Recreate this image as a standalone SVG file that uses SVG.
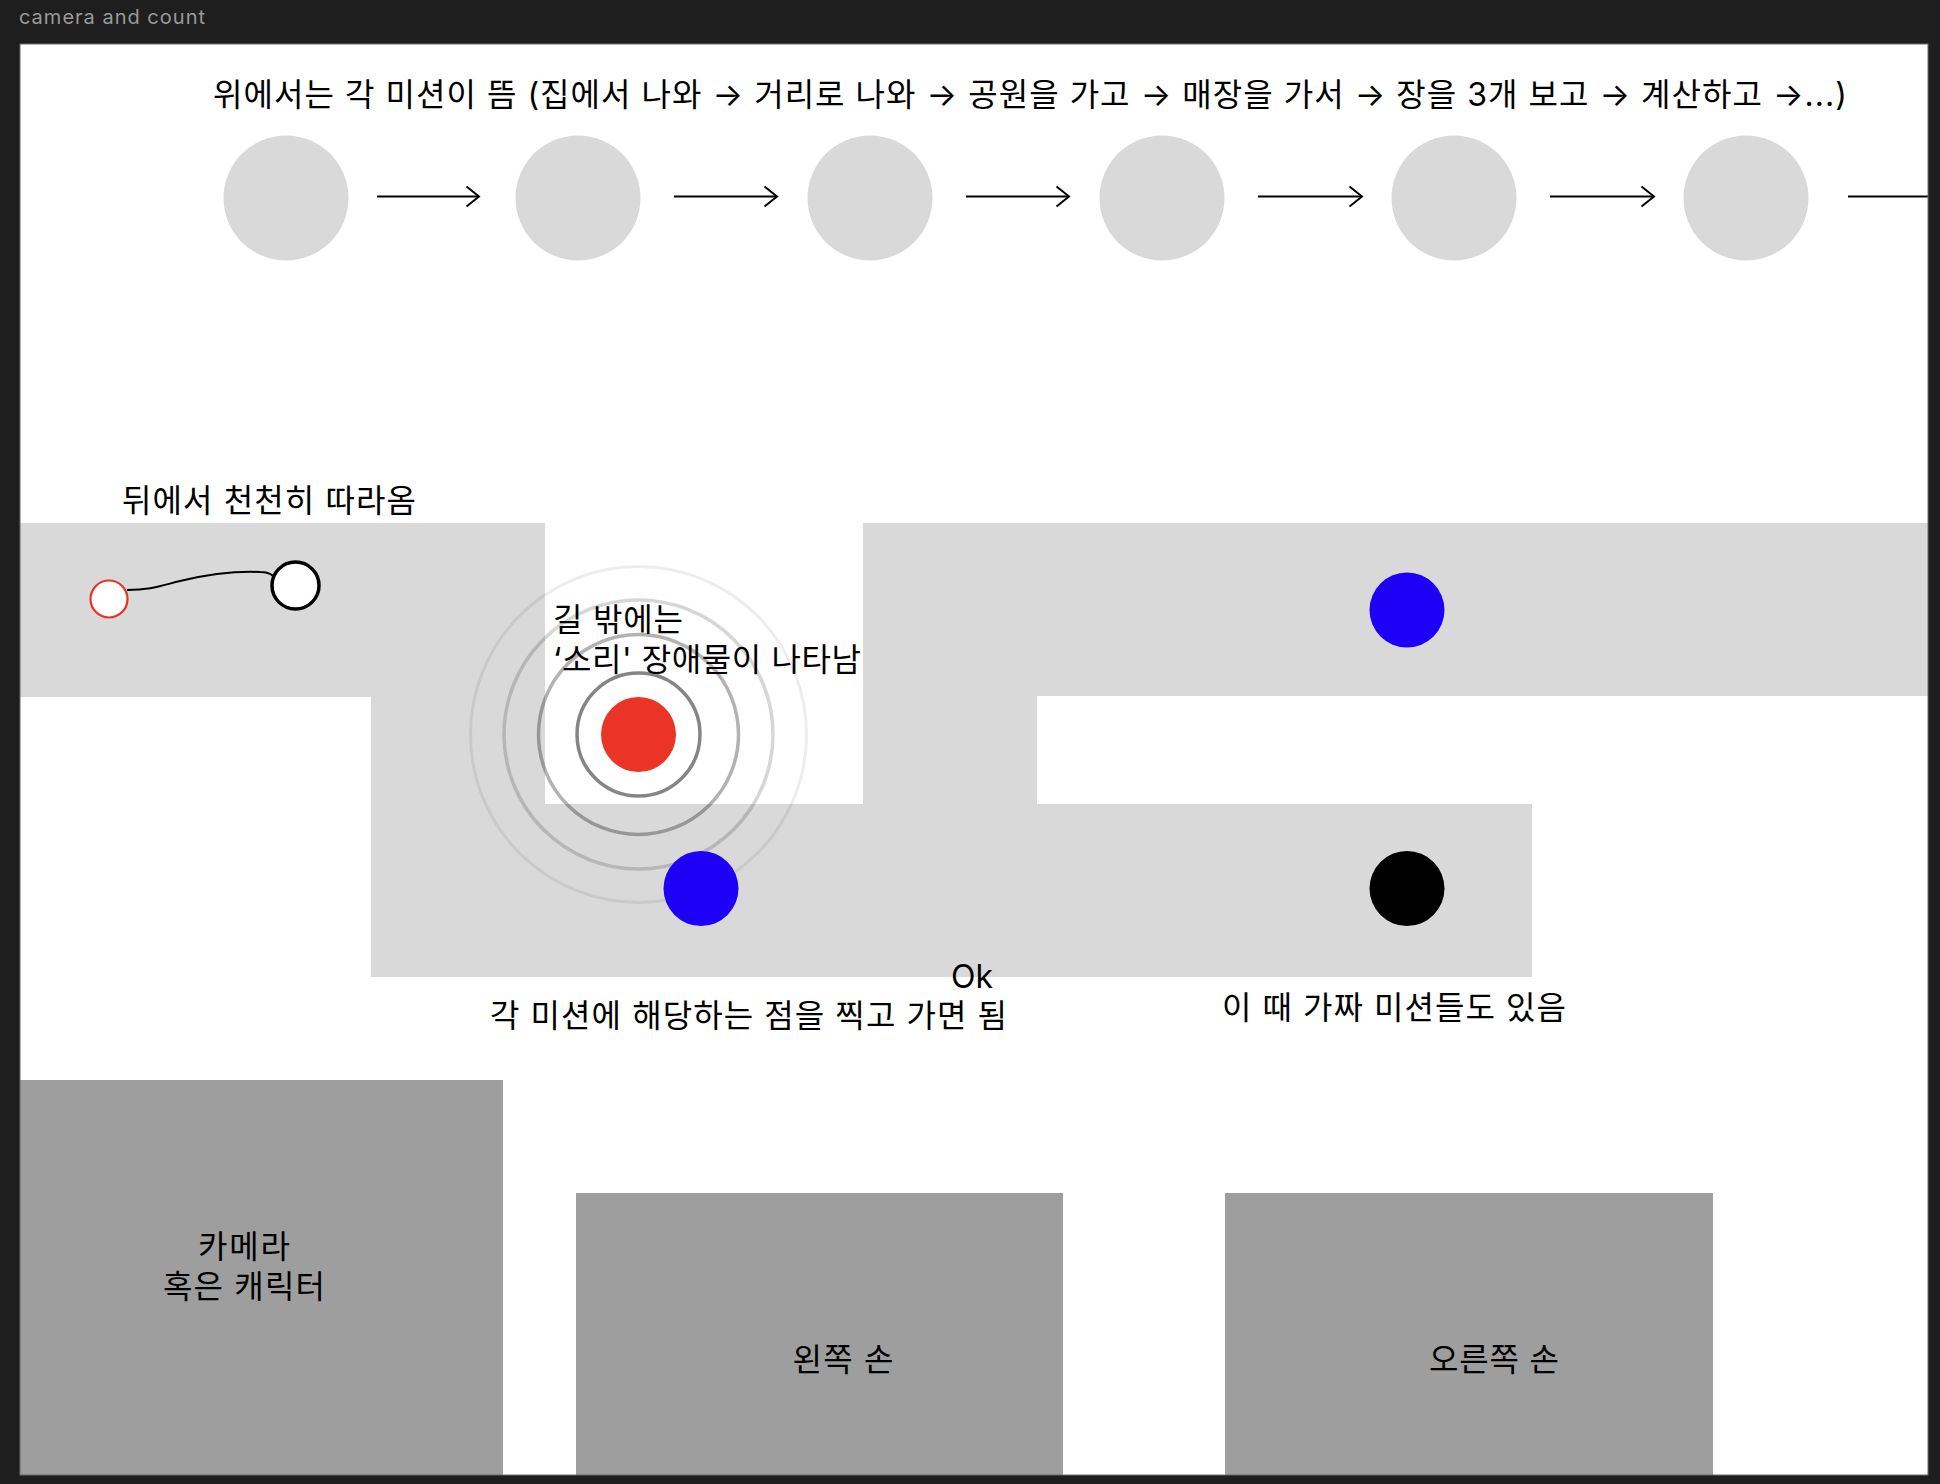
<svg xmlns="http://www.w3.org/2000/svg" width="1940" height="1484" viewBox="0 0 1940 1484">
  <defs>
    <style>
      .t { font-family: Inter, "Noto Sans CJK KR", sans-serif; font-size: 32px; fill: #000; }
      .road { fill: #d9d9d9; }
      .mission { fill: #d9d9d9; }
      .box { fill: #9e9e9e; }
      .flow { stroke: #000; stroke-width: 2; fill: none; }
      .ring { fill: none; stroke: #000; }
    </style>
    <marker id="arrowhead" viewBox="0 0 16 24" markerWidth="16" markerHeight="24" refX="14.5" refY="12" markerUnits="userSpaceOnUse" orient="auto">
      <path d="M2,2 L14.5,12 L2,22" fill="none" stroke="#000" stroke-width="2"/>
    </marker>
    <clipPath id="frameClip">
      <rect x="20" y="44" width="1908" height="1431"/>
    </clipPath>
  </defs>

  <rect x="0" y="0" width="1940" height="1484" fill="#1e1e1e"/>
  <text x="19" y="24" font-family="Inter, sans-serif" font-size="20" fill="#9a9a9a" textLength="186" lengthAdjust="spacing">camera and count</text>
  <rect x="20" y="44" width="1908" height="1431" fill="#ffffff"/>

  <g clip-path="url(#frameClip)">
    <g id="road">
      <rect class="road" x="20" y="523" width="525" height="174"/>
      <rect class="road" x="371" y="697" width="174" height="280"/>
      <rect class="road" x="371" y="804" width="1161" height="173"/>
      <rect class="road" x="863" y="523" width="174" height="281"/>
      <rect class="road" x="863" y="523" width="1065" height="173"/>
    </g>

    <text class="t" x="213" y="106" textLength="1634" lengthAdjust="spacing">위에서는 각 미션이 뜸 (집에서 나와 → 거리로 나와 → 공원을 가고 → 매장을 가서 → 장을 3개 보고 → 계산하고 →...)</text>

    <g id="mission1"><circle class="mission" cx="286" cy="198" r="62.5"/></g>
    <g id="mission2"><circle class="mission" cx="578" cy="198" r="62.5"/></g>
    <g id="mission3"><circle class="mission" cx="870" cy="198" r="62.5"/></g>
    <g id="mission4"><circle class="mission" cx="1162" cy="198" r="62.5"/></g>
    <g id="mission5"><circle class="mission" cx="1454" cy="198" r="62.5"/></g>
    <g id="mission6"><circle class="mission" cx="1746" cy="198" r="62.5"/></g>

    <g id="connectors">
      <line class="flow" x1="377" y1="196.5" x2="479" y2="196.5" marker-end="url(#arrowhead)"/>
      <line class="flow" x1="674" y1="196.5" x2="777" y2="196.5" marker-end="url(#arrowhead)"/>
      <line class="flow" x1="966" y1="196.5" x2="1069" y2="196.5" marker-end="url(#arrowhead)"/>
      <line class="flow" x1="1258" y1="196.5" x2="1362" y2="196.5" marker-end="url(#arrowhead)"/>
      <line class="flow" x1="1550" y1="196.5" x2="1654" y2="196.5" marker-end="url(#arrowhead)"/>
      <line class="flow" x1="1848" y1="196.5" x2="1951" y2="196.5" marker-end="url(#arrowhead)"/>
      <path class="flow" stroke-width="2.5" d="M127,590 C150,590 160,586 180,581 C205,575 235,571 260,572 C267,572 271,574 273,576"/>
    </g>

    <g id="follow">
      <text class="t" x="122" y="512" textLength="294" lengthAdjust="spacing">뒤에서 천천히 따라옴</text>
      <circle cx="109" cy="599" r="18.5" fill="#ffffff" stroke="#e63322" stroke-width="2.2"/>
      <circle cx="295.5" cy="585.5" r="23.5" fill="#ffffff" stroke="#000" stroke-width="3.5"/>
    </g>

    <g id="sound-obstacle">
      <circle class="ring" cx="638.5" cy="734.5" r="168" stroke-width="3" stroke-opacity="0.07"/>
      <circle class="ring" cx="638.5" cy="734.5" r="134.5" stroke-width="3.5" stroke-opacity="0.16"/>
      <circle class="ring" cx="638.5" cy="734.5" r="100" stroke-width="3.5" stroke-opacity="0.3"/>
      <circle class="ring" cx="638.5" cy="734.5" r="61.5" stroke-width="3.5" stroke-opacity="0.48"/>
      <circle cx="638.5" cy="734.5" r="37.5" fill="#e93426"/>
      <text class="t" x="553" y="631" textLength="130" lengthAdjust="spacing">길 밖에는</text>
      <text class="t" x="553" y="671" textLength="308" lengthAdjust="spacing">‘소리' 장애물이 나타남</text>
    </g>

    <g id="point-blue-1"><circle cx="701" cy="888.5" r="37.5" fill="#1d00f5"/></g>
    <g id="point-blue-2"><circle cx="1407" cy="610" r="37.5" fill="#1d00f5"/></g>
    <g id="point-fake"><circle cx="1407" cy="888.5" r="37.5" fill="#000000"/></g>

    <text class="t" x="951" y="988">Ok</text>
    <text class="t" x="490" y="1027" textLength="517" lengthAdjust="spacing">각 미션에 해당하는 점을 찍고 가면 됨</text>
    <text class="t" x="1222" y="1019" textLength="344" lengthAdjust="spacing">이 때 가짜 미션들도 있음</text>

    <g id="camera">
      <rect class="box" x="20" y="1080" width="483" height="400"/>
      <text class="t" x="244" y="1258" text-anchor="middle" textLength="92" lengthAdjust="spacing">카메라</text>
      <text class="t" x="244" y="1298" text-anchor="middle" textLength="162" lengthAdjust="spacing">혹은 캐릭터</text>
    </g>
    <g id="left-hand">
      <rect class="box" x="576" y="1193" width="487" height="290"/>
      <text class="t" x="843" y="1371" text-anchor="middle" textLength="101" lengthAdjust="spacing">왼쪽 손</text>
    </g>
    <g id="right-hand">
      <rect class="box" x="1225" y="1193" width="488" height="290"/>
      <text class="t" x="1494" y="1371" text-anchor="middle" textLength="130" lengthAdjust="spacing">오른쪽 손</text>
    </g>
  </g>
  <rect x="20" y="44" width="1908" height="1431" fill="none" stroke="#6a6a6a" stroke-width="1"/>
</svg>
